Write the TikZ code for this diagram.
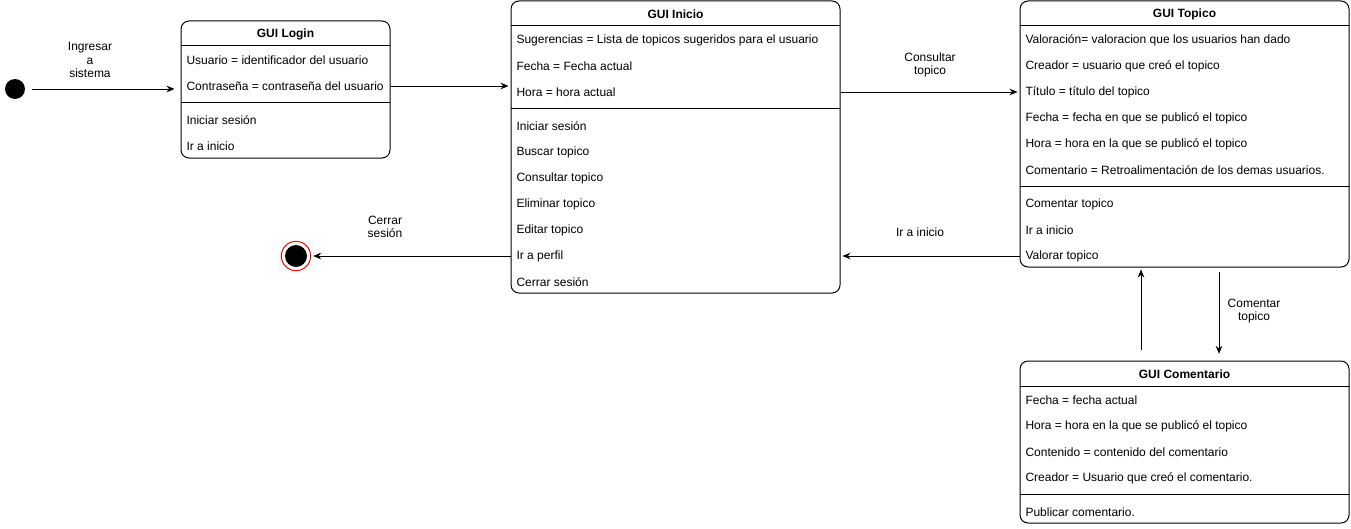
\documentclass[tikz,border=0pt]{standalone}
\usepackage{fontspec}
\setmainfont{Liberation Sans}
\usetikzlibrary{arrows.meta,fit}

\begin{document}
\begin{tikzpicture}[x=0.75pt,y=-0.75pt,line width=0.75pt,
  every node/.append style={inner sep=0pt},
  gui/.style={draw,rounded corners=6pt},
  guititle/.style={font=\bfseries\fontsize{9}{11}\selectfont},
  attr/.style={anchor=west,font=\fontsize{9}{11}\selectfont},
  lbl/.style={align=center,font=\fontsize{9}{10}\selectfont},
  trans/.style={-{Stealth[length=6pt,width=5pt]},shorten >=1.5pt}]
  \useasboundingbox (0,0) rectangle (1351,528);

  % estados inicial y final
  \node[circle,fill=black,minimum size=15pt] (start) at (15,89) {};
  \node[circle,draw=red,minimum size=22pt] (end) at (296,256) {};
  \fill[black] (end) circle (11);

  % GUI Login
  \coordinate (login-nw) at (181,21);
  \coordinate (login-se) at (390,158);
  \node[gui,fit=(login-nw)(login-se)] (login) {};
  \node[guititle] (login-t) at (285.5,34) {GUI Login};
  \draw (181,46) -- (390,46);
  \draw (181,102) -- (390,102);
  \foreach \t [count=\i] in {Usuario = identificador del usuario, Contraseña = contraseña del usuario}
    \node[attr] (login-a\i) at (186,34+26*\i) {\t};
  \foreach \t [count=\i] in {Iniciar sesión, Ir a inicio}
    \node[attr] (login-m\i) at (186,94+26*\i) {\t};

  % GUI Inicio
  \coordinate (inicio-nw) at (511,1);
  \coordinate (inicio-se) at (840,293);
  \node[gui,fit=(inicio-nw)(inicio-se)] (inicio) {};
  \node[guititle] (inicio-t) at (675.5,14) {GUI Inicio};
  \draw (511,26) -- (840,26);
  \draw (511,108) -- (840,108);
  \foreach \t [count=\i] in {Sugerencias = Lista de topicos sugeridos para el usuario, Fecha = Fecha actual, Hora = hora actual}
    \node[attr] (inicio-a\i) at (516,14+26*\i) {\t};
  \foreach \t [count=\i] in {Iniciar sesión, Buscar topico, Consultar topico, Eliminar topico, Editar topico, Ir a perfil, Cerrar sesión}
    \node[attr] (inicio-m\i) at (516,100+26*\i) {\t};

  % GUI Topico
  \coordinate (topico-nw) at (1020,1);
  \coordinate (topico-se) at (1349,267);
  \node[gui,fit=(topico-nw)(topico-se)] (topico) {};
  \node[guititle] (topico-t) at (1184.5,14) {GUI Topico};
  \draw (1020,26) -- (1349,26);
  \draw (1020,186) -- (1349,186);
  \foreach \t [count=\i] in {Valoración= valoracion que los usuarios han dado, Creador = usuario que creó el topico, Título = título del topico, Fecha = fecha en que se publicó el topico, Hora = hora en la que se publicó el topico, Comentario = Retroalimentación de los demas usuarios.}
    \node[attr] (topico-a\i) at (1025,14+26*\i) {\t};
  \foreach \t [count=\i] in {Comentar topico, Ir a inicio, Valorar topico}
    \node[attr] (topico-m\i) at (1025,178+26*\i) {\t};

  % GUI Comentario
  \coordinate (coment-nw) at (1020,361);
  \coordinate (coment-se) at (1349,523);
  \node[gui,fit=(coment-nw)(coment-se)] (coment) {};
  \node[guititle] (coment-t) at (1184.5,374) {GUI Comentario};
  \draw (1020,386) -- (1349,386);
  \draw (1020,494) -- (1349,494);
  \foreach \t [count=\i] in {Fecha = fecha actual, Hora = hora en la que se publicó el topico, Contenido = contenido del comentario, Creador = Usuario que creó el comentario.}
    \node[attr] (coment-a\i) at (1025,374+26*\i) {\t};
  \node[attr] (coment-m1) at (1025,512) {Publicar comentario.};

  % transiciones
  \draw[trans,shorten <=4.5pt,shorten >=4.5pt] (start) -- (start -| login.west);
  \draw[trans] (login.east |- login-a2) -- (inicio.west |- login-a2);
  \draw[trans] (inicio.east |- inicio-a3) -- (topico.west |- inicio-a3);
  \draw[trans] (topico.west |- topico-m3) -- (inicio.east |- topico-m3);
  \draw[trans] (inicio.west |- inicio-m6) -- (end);
  \coordinate (up) at (1141,350);
  \draw[trans] (up) -- (up |- topico.south);
  \coordinate (dn) at (1219,272);
  \draw[trans,shorten >=5pt] (dn) -- (dn |- coment.north);

  % etiquetas
  \node[lbl] (l-ingresar) at (90,60) {Ingresar\\a\\sistema};
  \node[lbl] (l-consultar) at (930,65) {Consultar\\topico};
  \node[lbl] (l-ir) at (920,232) {Ir a inicio};
  \node[lbl] (l-cerrar) at (385,227) {Cerrar\\sesión};
  \node[lbl] (l-comentar) at (1254,311) {Comentar\\topico};
\end{tikzpicture}
\end{document}
